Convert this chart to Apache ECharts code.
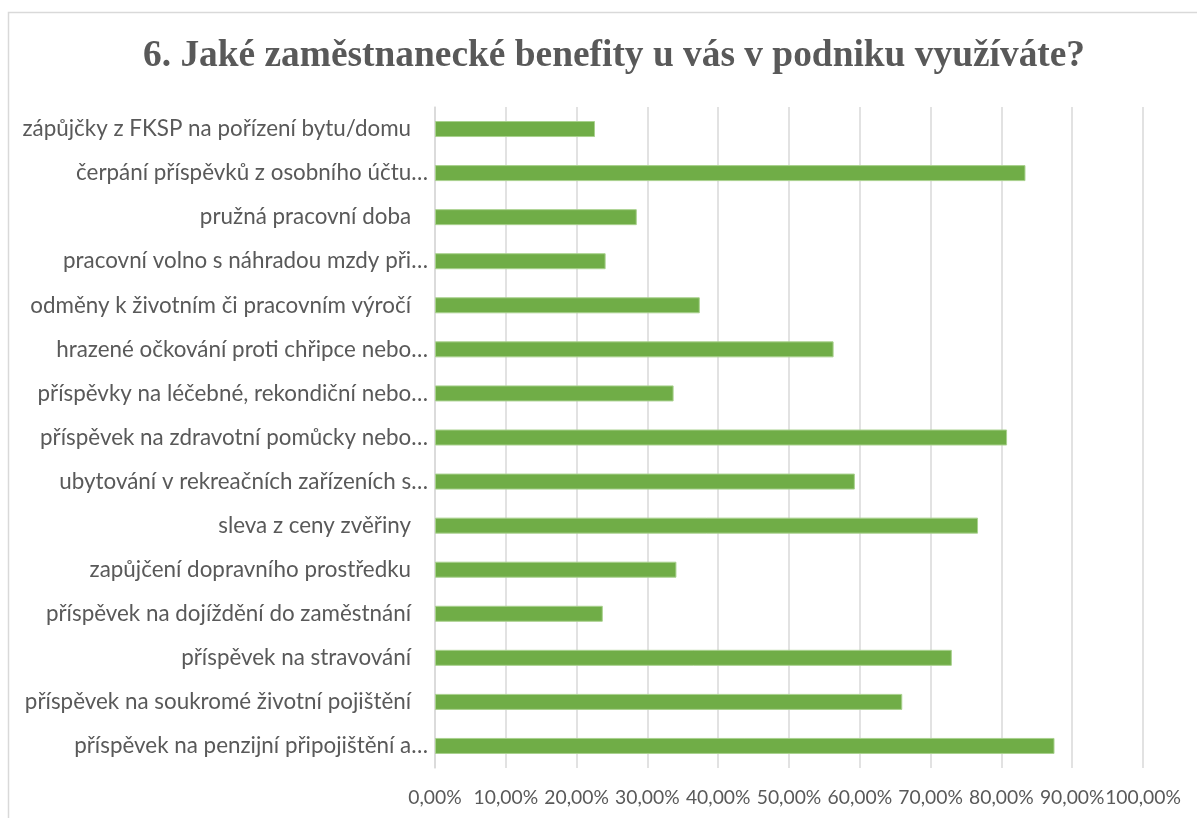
<!DOCTYPE html>
<html>
<head>
<meta charset="utf-8">
<script src="https://cdn.jsdelivr.net/npm/echarts@6/dist/echarts.min.js"></script>
<style>
html,body{margin:0;padding:0;background:#fff;}
#chart{width:1197px;height:818px;}
</style>
</head>
<body>
<div id="chart"></div>
<script>
const titleText = '6. Jaké zaměstnanecké benefity u vás v podniku využíváte?';
const categories = [
  'zápůjčky z FKSP na pořízení bytu/domu \u2002',
  'čerpání příspěvků z osobního účtu…',
  'pružná pracovní doba \u2002',
  'pracovní volno s náhradou mzdy při…',
  'odměny k životním či pracovním výročí \u2002',
  'hrazené očkování proti chřipce nebo…',
  'příspěvky na léčebné, rekondiční nebo…',
  'příspěvek na zdravotní pomůcky nebo…',
  'ubytování v rekreačních zařízeních s…',
  'sleva z ceny zvěřiny \u2002',
  'zapůjčení dopravního prostředku \u2002',
  'příspěvek na dojíždění do zaměstnání \u2002',
  'příspěvek na stravování \u2002',
  'příspěvek na soukromé životní pojištění \u2002',
  'příspěvek na penzijní připojištění a…'
];
const values = [22.6, 83.4, 28.5, 24.1, 37.4, 56.3, 33.7, 80.8, 59.3, 76.7, 34.1, 23.7, 73.0, 66.0, 87.5];
const xTickLabels = ['0,00%','10,00%','20,00%','30,00%','40,00%','50,00%','60,00%','70,00%','80,00%','90,00%','100,00%'];

const chart = echarts.init(document.getElementById('chart'));
chart.setOption({
  animation: false,
  backgroundColor: '#ffffff',
  title: {
    text: titleText,
    left: 138,
    top: 33,
    textStyle: {
      fontFamily: 'Liberation Serif',
      fontWeight: 'bold',
      fontSize: 37.4,
      color: '#595959'
    }
  },
  graphic: [{
    type: 'rect',
    shape: {x: 8.5, y: 12.5, width: 1250, height: 900},
    style: {fill: 'none', stroke: '#d9d9d9', lineWidth: 1.5},
    silent: true,
    z: -1
  }],
  grid: {left: 435, right: 54, top: 107, bottom: 50, containLabel: false},
  xAxis: {
    type: 'value',
    min: 0,
    max: 100,
    interval: 10,
    axisLine: {show: false},
    axisTick: {show: false},
    splitLine: {show: true, lineStyle: {color: '#d9d9d9', width: 1.5}},
    axisLabel: {
      margin: 20,
      fontFamily: 'Lato',
      fontSize: 19.3,
      color: '#595959',
      formatter: function (v) { return xTickLabels[Math.round(v / 10)]; }
    }
  },
  yAxis: {
    type: 'category',
    data: categories,
    inverse: true,
    axisLine: {show: true, lineStyle: {color: '#d9d9d9', width: 1.5}},
    axisTick: {show: false},
    axisLabel: {
      margin: 7,
      fontFamily: 'Lato',
      fontSize: 22.4,
      color: '#595959'
    }
  },
  series: [{
    type: 'bar',
    data: values,
    barWidth: 16,
    itemStyle: {color: '#70ad47', borderColor: '#a9d18e', borderWidth: 1}
  }]
});
</script>
</body>
</html>
